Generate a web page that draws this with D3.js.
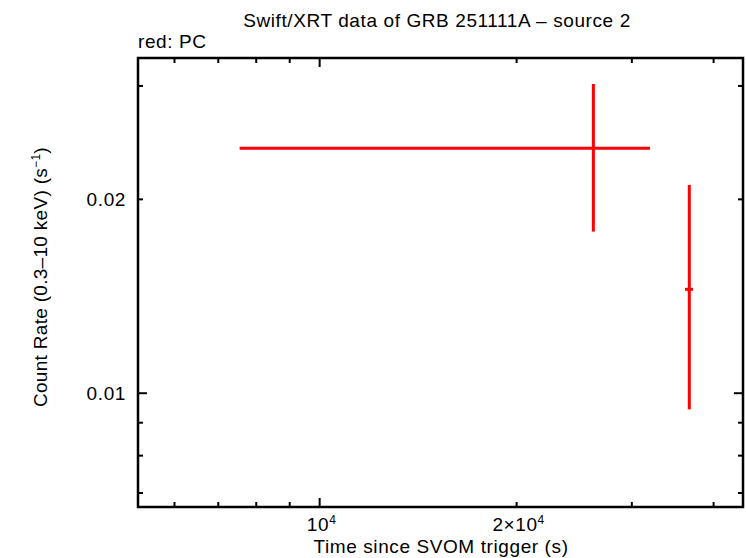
<!DOCTYPE html>
<html><head><meta charset="utf-8">
<script src="https://cdn.jsdelivr.net/npm/d3@7"></script>
<style>body{margin:0;background:#fff}svg{display:block}text{font-family:"Liberation Sans",Arial,sans-serif;fill:#000}</style>
</head><body><svg id="c" width="746" height="558"></svg>
<script>
// Data: time (s), time errors, count rate, rate errors
const times    = [26200, 36720];
const tLo      = [7546, 36170];
const tHi      = [31980, 37200];
const rates    = [0.0240, 0.0145];
const rLo      = [0.01782, 0.00944];
const rHi      = [0.03021, 0.02106];
const xMajor   = [10000];
const xLabeled = [{v:10000, t:"10", e:"4"}, {v:20000, t:"2×10", e:"4"}];
const xMinor   = [6000,7000,8000,9000,20000,30000,40000];
const yMajor   = [0.01];
const yLabeled = [{v:0.01, t:"0.01"}, {v:0.02, t:"0.02"}];
const yMinor   = [0.007,0.008,0.009,0.02,0.03];

const L=138, R=743, T=58, B=507;
const FS=19, LS=0.6;
const svg=d3.select("#c");
const x=d3.scaleLog().domain([5277,44360]).range([L,R]);
const y=d3.scaleLog().domain([0.006658,0.03315]).range([B,T]);

// ticks
const g=svg.append("g").attr("stroke","#000").attr("stroke-width",2);
function xt(v,len){
  g.append("line").attr("x1",x(v)).attr("x2",x(v)).attr("y1",B).attr("y2",B-len);
  g.append("line").attr("x1",x(v)).attr("x2",x(v)).attr("y1",T).attr("y2",T+len);
}
function yt(v,len){
  g.append("line").attr("y1",y(v)).attr("y2",y(v)).attr("x1",L).attr("x2",L+len);
  g.append("line").attr("y1",y(v)).attr("y2",y(v)).attr("x1",R).attr("x2",R-len);
}
xMajor.forEach(v=>xt(v,9)); xMinor.forEach(v=>xt(v,5));
yMajor.forEach(v=>yt(v,9)); yMinor.forEach(v=>yt(v,5));
svg.append("rect").attr("x",L).attr("y",T).attr("width",R-L).attr("height",B-T)
  .attr("fill","none").attr("stroke","#000").attr("stroke-width",2.5);

function txt(xp,yp,anchor){
  return svg.append("text").attr("x",xp).attr("y",yp).attr("text-anchor",anchor)
    .attr("font-size",FS).attr("letter-spacing",LS);
}
// tick labels
xLabeled.forEach(d=>{
  const t=txt(x(d.v)+2,531,"middle");
  t.append("tspan").text(d.t);
  t.append("tspan").attr("font-size",12).attr("dy",-7).text(d.e);
});
yLabeled.forEach(d=>{
  txt(126,y(d.v)+7,"end").text(d.t);
});

// titles
txt(437,27,"middle").text("Swift/XRT data of GRB 251111A – source 2");
txt(138,48,"start").text("red: PC");
txt(441,553,"middle").text("Time since SVOM trigger (s)");
const yl=svg.append("text").attr("transform","translate(47,277) rotate(-90)").attr("text-anchor","middle")
  .attr("font-size",FS).attr("letter-spacing",0.3);
yl.append("tspan").text("Count Rate (0.3–10 keV) (s");
yl.append("tspan").attr("font-size",12).attr("dy",-7).text("−1");
yl.append("tspan").attr("dy",7).text(")");

// data
const dg=svg.append("g").attr("stroke","#ff0000").attr("stroke-width",3);
times.forEach((t,i)=>{
  dg.append("line").attr("x1",x(tLo[i])).attr("x2",x(tHi[i])).attr("y1",y(rates[i])).attr("y2",y(rates[i]));
  dg.append("line").attr("x1",x(t)).attr("x2",x(t)).attr("y1",y(rLo[i])).attr("y2",y(rHi[i]));
});
</script></body></html>
